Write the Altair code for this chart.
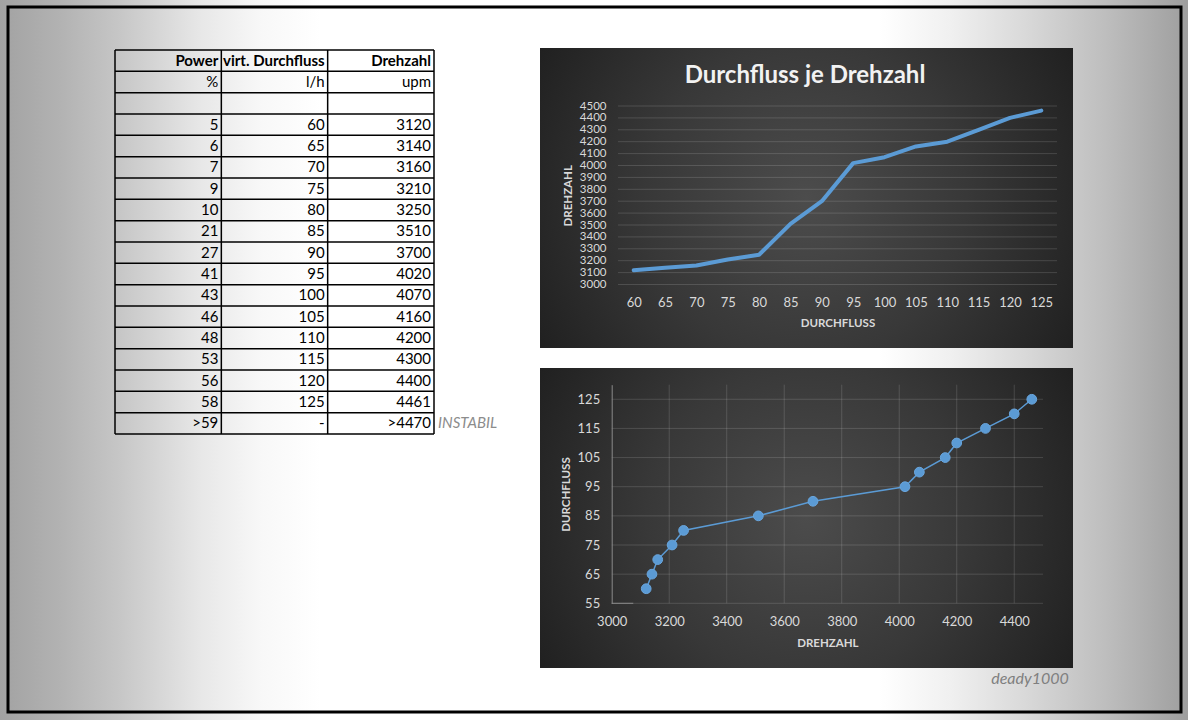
import altair as alt
import pandas as pd

W, H = 1188, 720

# ---------------- data ----------------
power = ["5", "6", "7", "9", "10", "21", "27", "41", "43", "46", "48", "53", "56", "58"]
durchfluss = [60, 65, 70, 75, 80, 85, 90, 95, 100, 105, 110, 115, 120, 125]
drehzahl = [3120, 3140, 3160, 3210, 3250, 3510, 3700, 4020, 4070, 4160, 4200, 4300, 4400, 4461]

header = ["Power", "virt. Durchfluss", "Drehzahl"]
units = ["%", "l/h", "upm"]
empty_row = ["", "", ""]
last_row = [">59", "-", ">4470"]
note_text = "INSTABIL"
chart_title = "Durchfluss je Drehzahl"
author = "deady1000"

y1_ticks = [3000, 3100, 3200, 3300, 3400, 3500, 3600, 3700, 3800, 3900, 4000, 4100, 4200, 4300, 4400, 4500]
x2_ticks = [3000, 3200, 3400, 3600, 3800, 4000, 4200, 4400]
y2_ticks = [55, 65, 75, 85, 95, 105, 115, 125]

# ---------------- tables built from the arrays ----------------
rows = [header, units, empty_row] + [[p, str(d), str(r)] for p, d, r in zip(power, durchfluss, drehzahl)] + [last_row]
n_rows = len(rows)
cells = []
for i, row in enumerate(rows):
    for j, v in enumerate(row):
        cells.append({"row": i + 0.5, "col": j + 1, "label": v, "bold": i == 0})
cells = pd.DataFrame(cells)
cells_bold = cells[cells["bold"]]
cells_norm = cells[~cells["bold"]]
hlines = pd.DataFrame({"r": list(range(n_rows + 1)), "c0": 0, "c1": 3})
vlines = pd.DataFrame({"c": [0, 1, 2, 3], "r0": 0, "r1": n_rows})
note_df = pd.DataFrame({"row": [n_rows - 0.5], "col": [3], "label": [note_text]})

df = pd.DataFrame({"Durchfluss": durchfluss, "Drehzahl": drehzahl})
grid1 = pd.DataFrame({"v": y1_ticks})
grid2h = pd.DataFrame({"v": y2_ticks, "lo": 3000, "hi": 4500})
grid2v = pd.DataFrame({"v": x2_ticks[1:], "lo": 55, "hi": 130})
stub = pd.DataFrame({"lo": [3000], "hi": [3075], "v": [55]})
one = alt.Data(values=[{}])

FONT = "Lato"
LBL = "#d9d9d9"

# ---------------- scales ----------------
tx = alt.Scale(domain=[0, 3], range=[115, 434], nice=False, zero=False)
ty = alt.Scale(domain=[0, n_rows], range=[50, 434], nice=False, zero=False)
sx1 = alt.Scale(type="point", domain=durchfluss, range=[618, 1057], padding=0.5)
sy1 = alt.Scale(domain=[3000, 4500], range=[284.5, 106], nice=False, zero=False)
sx2 = alt.Scale(domain=[3000, 4500], range=[611.7, 1043], nice=False, zero=False)
sy2 = alt.Scale(domain=[55, 130], range=[603.3, 384.7], nice=False, zero=False)

# ---------------- background ----------------
bg = alt.Chart(one).mark_rect(
    fill={
        "gradient": "linear", "x1": 0, "y1": 0, "x2": 1, "y2": 0,
        "stops": [
            {"offset": 0.0, "color": "#a2a2a2"},
            {"offset": 0.05, "color": "#b2b2b2"},
            {"offset": 0.10, "color": "#c6c6c6"},
            {"offset": 0.17, "color": "#e8e8e8"},
            {"offset": 0.22, "color": "#f8f8f8"},
            {"offset": 0.27, "color": "#ffffff"},
            {"offset": 0.74, "color": "#ffffff"},
            {"offset": 0.80, "color": "#f0f0f0"},
            {"offset": 0.86, "color": "#dadada"},
            {"offset": 0.93, "color": "#bebebe"},
            {"offset": 1.0, "color": "#9e9e9e"},
        ],
    }
).encode(x=alt.value(0), x2=alt.value(W), y=alt.value(0), y2=alt.value(H))

frame = alt.Chart(one).mark_rect(filled=False, stroke="black", strokeWidth=3).encode(
    x=alt.value(8), x2=alt.value(1181), y=alt.value(7), y2=alt.value(712)
)

panel_fill = {
    "gradient": "radial", "x1": 0.5, "y1": 0.5, "r1": 0, "x2": 0.5, "y2": 0.5, "r2": 0.6,
    "stops": [
        {"offset": 0.0, "color": "#4c4c4c"},
        {"offset": 0.5, "color": "#383838"},
        {"offset": 1.0, "color": "#1e1e1e"},
    ],
}
panel1 = alt.Chart(one).mark_rect(fill=panel_fill).encode(
    x=alt.value(540), x2=alt.value(1073), y=alt.value(48), y2=alt.value(348)
)
panel2 = alt.Chart(one).mark_rect(fill=panel_fill).encode(
    x=alt.value(540), x2=alt.value(1073), y=alt.value(368), y2=alt.value(668)
)

# ---------------- table ----------------
t_h = alt.Chart(hlines).mark_rule(color="black", strokeWidth=1.5).encode(
    y=alt.Y("r:Q", scale=ty, axis=None),
    x=alt.X("c0:Q", scale=tx, axis=None),
    x2="c1:Q",
)
t_v = alt.Chart(vlines).mark_rule(color="black", strokeWidth=1.5).encode(
    x=alt.X("c:Q", scale=tx, axis=None),
    y=alt.Y("r0:Q", scale=ty, axis=None),
    y2="r1:Q",
)
t_txt = alt.Chart(cells_norm).mark_text(
    align="right", baseline="middle", dx=-3, font=FONT, fontSize=15, color="black"
).encode(
    x=alt.X("col:Q", scale=tx, axis=None),
    y=alt.Y("row:Q", scale=ty, axis=None),
    text="label:N",
)
t_txt_b = alt.Chart(cells_bold).mark_text(
    align="right", baseline="middle", dx=-3, font=FONT, fontSize=15, fontWeight="bold", color="black"
).encode(
    x=alt.X("col:Q", scale=tx, axis=None),
    y=alt.Y("row:Q", scale=ty, axis=None),
    text="label:N",
)
t_note = alt.Chart(note_df).mark_text(
    align="left", baseline="middle", dx=4, font=FONT, fontSize=15, fontStyle="italic", color="#8c8c8c"
).encode(
    x=alt.X("col:Q", scale=tx, axis=None),
    y=alt.Y("row:Q", scale=ty, axis=None),
    text="label:N",
)

# ---------------- chart 1 ----------------
c1_grid = alt.Chart(grid1).mark_rule(color="#ffffff", opacity=0.14, strokeWidth=1).encode(
    y=alt.Y("v:Q", scale=sy1, axis=None), x=alt.value(618), x2=alt.value(1057)
)
c1_line = alt.Chart(df).mark_line(
    color="#5b9bd5", strokeWidth=4, strokeCap="round", strokeJoin="round"
).encode(
    x=alt.X(
        "Durchfluss:O", scale=sx1,
        axis=alt.Axis(
            orient="bottom", offset=-(H - 284.5), title="DURCHFLUSS", labelAngle=0,
            ticks=False, tickSize=0, domain=False, grid=False, labelPadding=12,
            labelColor=LBL, labelFont=FONT, labelFontSize=13, labelOverlap=False,
            titleColor=LBL, titleFont=FONT, titleFontSize=11.5, titleFontWeight="bold",
            titlePadding=8, zindex=1,
        ),
    ),
    y=alt.Y(
        "Drehzahl:Q", scale=sy1,
        axis=alt.Axis(
            orient="left", offset=-618, values=y1_ticks, format="d", title="DREHZAHL",
            ticks=False, tickSize=0, domain=False, grid=False, labelPadding=12,
            labelColor=LBL, labelFont=FONT, labelFontSize=11.5, labelOverlap=False,
            labelFlush=False, titleColor=LBL, titleFont=FONT, titleFontSize=11.5,
            titleFontWeight="bold", titlePadding=6, zindex=1,
        ),
    ),
)
c1_title = alt.Chart(one).mark_text(
    text=chart_title, font=FONT, fontSize=24, fontWeight="bold", color="#f2f2f2",
    align="center", baseline="middle",
).encode(x=alt.value(805), y=alt.value(76))

# ---------------- chart 2 ----------------
c2_gh = alt.Chart(grid2h).mark_rule(color="#ffffff", opacity=0.14, strokeWidth=1).encode(
    y=alt.Y("v:Q", scale=sy2, axis=None),
    x=alt.X("lo:Q", scale=sx2, axis=None),
    x2="hi:Q",
)
c2_gv = alt.Chart(grid2v).mark_rule(color="#ffffff", opacity=0.14, strokeWidth=1).encode(
    x=alt.X("v:Q", scale=sx2, axis=None),
    y=alt.Y("lo:Q", scale=sy2, axis=None),
    y2="hi:Q",
)
c2_stub = alt.Chart(stub).mark_rule(color="#8a8a8a", strokeWidth=1).encode(
    y=alt.Y("v:Q", scale=sy2, axis=None),
    x=alt.X("lo:Q", scale=sx2, axis=None),
    x2="hi:Q",
)
c2_line = alt.Chart(df).mark_line(color="#5b9bd5", strokeWidth=1.5).encode(
    x=alt.X(
        "Drehzahl:Q", scale=sx2,
        axis=alt.Axis(
            orient="bottom", offset=-(H - 603.3), values=x2_ticks, format="d", title="DREHZAHL",
            ticks=False, tickSize=0, domain=False, grid=False, labelPadding=12,
            labelColor=LBL, labelFont=FONT, labelFontSize=13, labelOverlap=False,
            labelFlush=False, titleColor=LBL, titleFont=FONT, titleFontSize=11.5,
            titleFontWeight="bold", titlePadding=9, zindex=1,
        ),
    ),
    y=alt.Y(
        "Durchfluss:Q", scale=sy2,
        axis=alt.Axis(
            orient="left", offset=-611.7, values=y2_ticks, format="d", title="DURCHFLUSS",
            ticks=False, tickSize=0, domain=True, domainColor="#8a8a8a", domainWidth=1,
            grid=False, labelPadding=12, labelColor=LBL, labelFont=FONT, labelFontSize=13,
            labelOverlap=False, labelFlush=False, titleColor=LBL, titleFont=FONT,
            titleFontSize=11.5, titleFontWeight="bold", titlePadding=6, zindex=1,
        ),
    ),
)
c2_pts = alt.Chart(df).mark_point(
    filled=True, size=95, color="#5b9bd5", opacity=1, stroke="#6aa6dd", strokeWidth=1
).encode(
    x=alt.X("Drehzahl:Q", scale=sx2, axis=None),
    y=alt.Y("Durchfluss:Q", scale=sy2, axis=None),
)

sig = alt.Chart(one).mark_text(
    text=author, font=FONT, fontSize=16, fontStyle="italic", color="#7f7f7f",
    align="center", baseline="middle",
).encode(x=alt.value(1030), y=alt.value(679))

chart = alt.layer(
    bg, frame, panel1, panel2,
    t_h, t_v, t_txt, t_txt_b, t_note,
    c1_grid, c1_line, c1_title,
    c2_gh, c2_gv, c2_stub, c2_line, c2_pts,
    sig,
).resolve_scale(x="independent", y="independent").properties(
    width=W, height=H, padding=0, autosize=alt.AutoSizeParams(type="none")
).configure_view(stroke=None)

chart.save("out.html", embed_options={"renderer": "svg", "actions": False})
